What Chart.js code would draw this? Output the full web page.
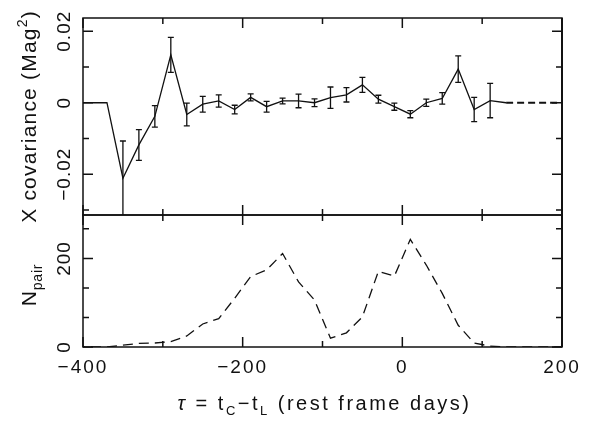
<!DOCTYPE html>
<html>
<head>
<meta charset="utf-8">
<title>Cross covariance and pair counts</title>
<script src="https://cdn.jsdelivr.net/npm/chart.js@4.4.1/dist/chart.umd.min.js"></script>
<style>
    html, body { margin: 0; padding: 0; background: #fff; }
    canvas { display: block; }
</style>
</head>
<body>
<canvas id="lagChart" width="593" height="425"></canvas>
<script>
// Lag bins in rest frame days (20 day bins, the outer ones run past the axis)
const lags = [-410, -390, -370, -350, -330, -310, -290, -270, -250, -230, -210, -190, -170, -150, -130, -110,
              -90, -70, -50, -30, -10, 10, 30, 50, 70, 90, 110, 130, 150, 170, 190, 210];

// Cross covariance per bin (Mag^2) and its 1-sigma error, null where no bar is drawn
const covariance = [0, 0, 0, -0.0211, -0.0118, -0.0038, 0.0134, -0.0033, -0.0004, 0.0005, -0.0019, 0.0015,
                    -0.0011, 0.0005, 0.0005, 0.0000, 0.0014, 0.0022, 0.0050, 0.0010, -0.0011, -0.0032, 0.0000,
                    0.0012, 0.0094, -0.0019, 0.0006, 0, 0, 0, 0, 0];
const covError = [null, null, null, 0.0104, 0.0043, 0.0030, 0.0049, 0.0032, 0.0022, 0.0017, 0.0012, 0.0010,
                  0.0015, 0.0008, 0.0019, 0.0011, 0.0030, 0.0020, 0.0021, 0.0011, 0.0010, 0.0010, 0.0010,
                  0.0016, 0.0037, 0.0034, 0.0048, null, null, null, null, null];

// Number of pairs that fall in each bin
const nPairs = [0, 0, 0, 4, 8, 9, 12, 25, 52, 64, 110, 159, 174, 211, 147, 106,
                20, 32, 68, 171, 160, 243, 185, 121, 49, 9, 2, 0, 0, 0, 0, 0];

// Tick marks and the ticks that carry a label
const xTicks = [-400, -300, -200, -100, 0, 100, 200];
const xLabels = [-400, -200, 0, 200];
const covTicks = [-0.03, -0.02, -0.01, 0, 0.01, 0.02];
const covLabels = [-0.02, 0, 0.02];
const pairTicks = [0, 66.7, 133.3, 200, 266.7];
const pairLabels = [0, 200];

const INK = '#111';
const FONT = '"Liberation Sans", Arial, sans-serif';

function fmt(v) {
    return v < 0 ? '\u2212' + String(-v) : String(v);
}

// Draws a run of text pieces (for sub/superscripts) centred on (x, y), optionally rotated
function drawRich(ctx, parts, x, y, rotate, spacing) {
    ctx.save();
    ctx.translate(x, y);
    if (rotate) ctx.rotate(-Math.PI / 2);
    ctx.letterSpacing = spacing + 'px';
    ctx.textBaseline = 'alphabetic';
    ctx.textAlign = 'left';
    let total = 0;
    parts.forEach(p => {
        ctx.font = (p.style || '') + ' ' + p.size + 'px ' + FONT;
        p.w = ctx.measureText(p.text).width;
        total += p.w;
    });
    let cx = -total / 2;
    parts.forEach(p => {
        ctx.font = (p.style || '') + ' ' + p.size + 'px ' + FONT;
        ctx.fillText(p.text, cx, p.dy || 0);
        cx += p.w;
    });
    ctx.restore();
}

// Error bars on the covariance panel
const errorBars = {
    id: 'errorBars',
    afterDatasetsDraw(chart) {
        const { ctx, scales: { x, yCov } } = chart;
        ctx.save();
        ctx.beginPath();
        ctx.rect(x.left, yCov.top, x.right - x.left, yCov.bottom - yCov.top);
        ctx.clip();
        ctx.strokeStyle = INK;
        ctx.lineWidth = 1.3;
        lags.forEach((lag, i) => {
            const e = covError[i];
            if (e == null) return;
            const px = x.getPixelForValue(lag);
            const top = yCov.getPixelForValue(covariance[i] + e);
            const bot = yCov.getPixelForValue(covariance[i] - e);
            ctx.beginPath();
            ctx.moveTo(px, top); ctx.lineTo(px, bot);
            ctx.moveTo(px - 3, top); ctx.lineTo(px + 3, top);
            ctx.moveTo(px - 3, bot); ctx.lineTo(px + 3, bot);
            ctx.stroke();
        });
        ctx.restore();
    }
};

// Boxed panels with inward ticks on every side, plus labels
const frame = {
    id: 'frame',
    afterDraw(chart) {
        const { ctx, scales: { x, yCov, yPair } } = chart;
        ctx.save();
        ctx.strokeStyle = INK;
        ctx.fillStyle = INK;
        ctx.lineWidth = 1.5;

        [[yCov, covTicks, covLabels], [yPair, pairTicks, pairLabels]].forEach(([ys, ticks, labels]) => {
            ctx.strokeRect(x.left, ys.top, x.right - x.left, ys.bottom - ys.top);
            ctx.beginPath();
            xTicks.forEach(v => {
                const px = x.getPixelForValue(v);
                const len = xLabels.includes(v) ? 10 : 6;
                ctx.moveTo(px, ys.bottom); ctx.lineTo(px, ys.bottom - len);
                ctx.moveTo(px, ys.top); ctx.lineTo(px, ys.top + len);
            });
            ticks.forEach(v => {
                const py = ys.getPixelForValue(v);
                const len = labels.includes(v) ? 10 : 6;
                ctx.moveTo(x.left, py); ctx.lineTo(x.left + len, py);
                ctx.moveTo(x.right, py); ctx.lineTo(x.right - len, py);
            });
            ctx.stroke();
            labels.forEach(v => {
                drawRich(ctx, [{ text: fmt(v), size: 19 }], 70, ys.getPixelForValue(v), true, 1);
            });
        });

        // heavier right edge
        ctx.lineWidth = 2;
        ctx.beginPath();
        ctx.moveTo(x.right, yCov.top); ctx.lineTo(x.right, yPair.bottom);
        ctx.stroke();

        xLabels.forEach(v => {
            drawRich(ctx, [{ text: fmt(v), size: 19 }], x.getPixelForValue(v), 373, false, 2);
        });

        drawRich(ctx, [
            { text: '\u03C4', size: 20, style: 'italic' },
            { text: ' = t', size: 20 },
            { text: 'C', size: 13, dy: 5 },
            { text: '\u2212t', size: 20 },
            { text: 'L', size: 13, dy: 5 },
            { text: ' (rest frame days)', size: 20 }
        ], (x.left + x.right) / 2 + 2, 410, false, 2.5);

        drawRich(ctx, [
            { text: 'X covariance (Mag', size: 21 },
            { text: '2', size: 14, dy: -9 },
            { text: ')', size: 21 }
        ], 36, (yCov.top + yCov.bottom) / 2, true, 1.2);

        drawRich(ctx, [
            { text: 'N', size: 21 },
            { text: 'pair', size: 14, dy: 6 }
        ], 36, (yPair.top + yPair.bottom) / 2 + 4, true, 0.8);

        ctx.restore();
    }
};

const hiddenAxis = {
    grid: { display: false },
    border: { display: false },
    ticks: { display: false }
};

new Chart(document.getElementById('lagChart'), {
    type: 'line',
    data: {
        labels: lags,
        datasets: [
            {
                label: 'X covariance',
                data: lags.map((lag, i) => ({ x: lag, y: covariance[i] })),
                yAxisID: 'yCov',
                borderColor: INK,
                borderWidth: 1.3,
                pointRadius: 0,
                tension: 0,
                segment: {
                    borderDash: c => c.p0.parsed.x >= 130 ? [7, 4] : undefined,
                    borderWidth: c => c.p0.parsed.x >= 130 ? 2 : undefined
                }
            },
            {
                label: 'N pair',
                data: lags.map((lag, i) => ({ x: lag, y: nPairs[i] })),
                yAxisID: 'yPair',
                borderColor: INK,
                borderWidth: 1.3,
                borderDash: [10, 6],
                pointRadius: 0,
                tension: 0
            }
        ]
    },
    options: {
        responsive: false,
        animation: false,
        devicePixelRatio: 1,
        layout: { padding: { left: 0, top: 18, right: 31, bottom: 0 } },
        plugins: {
            legend: { display: false },
            tooltip: { enabled: false }
        },
        scales: {
            x: {
                type: 'linear',
                min: -400,
                max: 200,
                ...hiddenAxis,
                afterFit: s => { s.height = 78; }
            },
            // left-hand stack is laid out last-defined first, so the pair panel comes first here
            yPair: {
                type: 'linear',
                axis: 'y',
                position: 'left',
                stack: 'panels',
                stackWeight: 132,
                min: 0,
                max: 298,
                ...hiddenAxis,
                afterBuildTicks: s => { s.ticks = pairTicks.map(v => ({ value: v })); },
                afterFit: s => { s.width = 83; }
            },
            yCov: {
                type: 'linear',
                axis: 'y',
                position: 'left',
                stack: 'panels',
                stackWeight: 197,
                min: -0.0314,
                max: 0.0237,
                ...hiddenAxis,
                afterBuildTicks: s => { s.ticks = covTicks.map(v => ({ value: v })); },
                afterFit: s => { s.width = 83; }
            }
        }
    },
    plugins: [errorBars, frame]
});
</script>
</body>
</html>
